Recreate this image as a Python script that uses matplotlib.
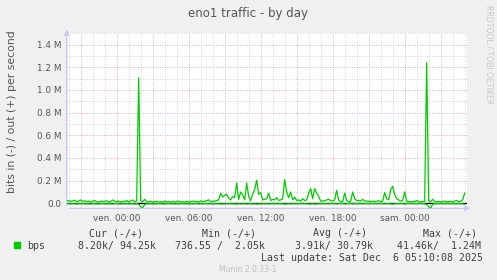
import matplotlib
matplotlib.use('Agg')
import matplotlib.pyplot as plt
import matplotlib.dates as mdates
import numpy as np
import pandas as pd

# out (+) traffic, kbit/s, one value per 10 minutes
out_k = [
    20, 25, 18, 22, 28, 15, 20, 30, 18, 22,
    15, 20, 12, 18, 25, 15, 10, 20, 15, 18,
    22, 12, 15, 30, 18, 15, 20, 12, 18, 15,
    25, 12, 20, 30, 15, 20, 1108, 20, 15, 35,
    15, 12, 20, 10, 15, 18, 12, 15, 10, 20,
    12, 15, 10, 18, 12, 15, 20, 12, 15, 10,
    18, 12, 15, 20, 15, 18, 12, 22, 15, 18,
    25, 30, 15, 20, 18, 25, 30, 90, 55, 70,
    80, 45, 30, 60, 50, 180, 35, 100, 75, 30,
    180, 60, 25, 80, 120, 205, 80, 95, 30, 35,
    40, 90, 25, 35, 30, 50, 25, 30, 40, 210,
    100, 50, 100, 30, 55, 25, 30, 20, 40, 25,
    30, 90, 130, 40, 130, 90, 60, 20, 20, 25,
    30, 35, 25, 20, 30, 115, 30, 15, 15, 90,
    25, 15, 15, 100, 40, 25, 25, 20, 35, 20,
    20, 18, 15, 20, 15, 18, 22, 15, 20, 95,
    40, 30, 120, 150, 80, 40, 30, 20, 25, 100,
    20, 15, 12, 18, 15, 25, 15, 12, 18, 15,
    1240, 20, 15, 35, 15, 12, 18, 10, 15, 20,
    12, 15, 18, 12, 20, 25, 15, 18, 30, 90,
]

# in (-) traffic, kbit/s, drawn below zero
in_k = [
    4, 3, 5, 2, 4, 6, 3, 4, 2, 5,
    3, 4, 6, 2, 3, 5, 4, 3, 2, 4,
    5, 3, 4, 6, 3, 2, 4, 5, 3, 4,
    2, 5, 3, 4, 6, 3, 8, 30, 38, 12,
    3, 4, 2, 5, 3, 4, 2, 3, 5, 4,
    3, 2, 4, 3, 5, 2, 4, 3, 2, 4,
    3, 5, 2, 4, 3, 2, 5, 3, 4, 2,
    3, 4, 2, 5, 3, 4, 3, 6, 4, 5,
    3, 4, 3, 5, 4, 7, 3, 5, 4, 3,
    6, 4, 3, 5, 4, 7, 4, 5, 3, 4,
    3, 5, 3, 4, 3, 4, 3, 4, 3, 7,
    5, 3, 5, 3, 4, 3, 3, 2, 4, 3,
    3, 5, 6, 3, 6, 5, 4, 2, 3, 3,
    3, 4, 3, 2, 3, 5, 3, 2, 2, 5,
    3, 2, 2, 5, 3, 3, 3, 2, 4, 2,
    2, 3, 2, 3, 2, 3, 3, 2, 3, 5,
    3, 3, 5, 6, 4, 3, 3, 2, 3, 5,
    2, 2, 1, 2, 2, 3, 2, 1, 2, 4,
    10, 30, 41.46, 8, 3, 2, 3, 1, 2, 3,
    2, 3, 3, 2, 3, 4, 2, 3, 4, 8.2,
]

times = pd.date_range('2025-12-04 19:50', periods=len(out_k), freq='10min')
t_start = pd.Timestamp('2025-12-04 19:50:08')
t_end = pd.Timestamp('2025-12-06 05:10:08')

legend_head = ['Cur (-/+)', 'Min (-/+)', 'Avg (-/+)', 'Max (-/+)']
legend_vals = ['8.20k/ 94.25k', '736.55 /  2.05k', '3.91k/ 30.79k', '41.46k/  1.24M']
jours = ['lun.', 'mar.', 'mer.', 'jeu.', 'ven.', 'sam.', 'dim.']

W, H = 497, 280
bg = '#F0F0F0'
txt = '#555555'
green = '#00CC00'
axcol = '#C8C8F4'

fig = plt.figure(figsize=(W / 100, H / 100), dpi=100, facecolor=bg)
ax = fig.add_axes([66.7 / W, 1 - 208.3 / H, 400 / W, 175.3 / H])
ax.set_facecolor('white')

out = np.array(out_k) / 1000.0
inn = -np.array(in_k) / 1000.0

ax.axhline(0, color='black', lw=1.0, zorder=3)
ax.plot(times, inn, color=green, lw=0.9, zorder=4)
ax.plot(times, out, color=green, lw=0.9, zorder=5)

ax.set_xlim(t_start, t_end)
ax.set_ylim(-0.044, 1.503)

# grid: gray every 0.1 M / 1 h, red every 0.2 M / 3 h
ax.set_yticks(np.arange(0, 1.41, 0.2))
ax.set_yticks(np.arange(0.1, 1.51, 0.2), minor=True)
ax.set_yticklabels(['0.0'] + ['%.1f M' % v for v in np.arange(0.2, 1.41, 0.2)])
ax.xaxis.set_major_locator(mdates.HourLocator(byhour=range(0, 24, 6)))
ax.xaxis.set_minor_locator(mdates.HourLocator())
ax.xaxis.set_major_formatter(plt.FuncFormatter(
    lambda v, p: jours[mdates.num2date(v).weekday()] + ' ' + mdates.num2date(v).strftime('%H:%M')))

ax.grid(which='minor', color='#D4D4D4', lw=0.7, ls=(0, (1, 1.5)), zorder=0)
for h in pd.date_range('2025-12-04 21:00', t_end, freq='3h'):
    ax.axvline(h, color='#E8A8A8', lw=0.7, ls=(0, (1, 1.5)), zorder=1)
for y in np.arange(0.2, 1.41, 0.2):
    ax.axhline(y, color='#E8A8A8', lw=0.7, ls=(0, (1, 1.5)), zorder=1)

ax.tick_params(axis='both', which='both', length=0, labelsize=6.4, colors=txt, pad=4)
ax.tick_params(axis='x', pad=4)
for s in ax.spines.values():
    s.set_visible(False)

# axes with arrows
ax.annotate('', xy=(0, 1.035), xytext=(0, 0), xycoords='axes fraction',
            arrowprops=dict(arrowstyle='-|>', color=axcol, lw=1, mutation_scale=7),
            annotation_clip=False)
ax.annotate('', xy=(1.016, 0), xytext=(0, 0), xycoords='axes fraction',
            arrowprops=dict(arrowstyle='-|>', color=axcol, lw=1, mutation_scale=7),
            annotation_clip=False)

fig.text(248 / W, 1 - 14 / H, 'eno1 traffic - by day', ha='center', va='center',
         fontsize=8.5, color=txt)
fig.text(12 / W, 1 - 112 / H, 'bits in (-) / out (+) per second', rotation=90,
         ha='center', va='center', fontsize=7.8, color=txt)
fig.text(489 / W, 1 - 5 / H, 'RRDTOOL / TOBI OETIKER', rotation=270,
         ha='center', va='top', fontsize=5.6, color='#C8C8C8')

mono = dict(family='DejaVu Sans Mono', fontsize=7.1, color='#404040', va='center')
for x, s in zip([89, 201.7, 312.7, 423.3], legend_head):
    fig.text(x / W, 1 - 233 / H, s, ha='left', **mono)
fig.patches.append(plt.Rectangle((14 / W, 1 - 248.3 / H), 6 / W, 6 / H,
                                 transform=fig.transFigure, color=green))
fig.text(26.7 / W, 1 - 246 / H, 'bps', ha='left', **mono)
for x, s in zip([78.3, 175, 295, 397.3], legend_vals):
    fig.text(x / W, 1 - 246 / H, s, ha='left', **mono)
fig.text(483.3 / W, 1 - 258 / H, 'Last update: Sat Dec  6 05:10:08 2025', ha='right', **mono)
fig.text(248 / W, 1 - 269.5 / H, 'Munin 2.0.33-1', ha='center', va='center',
         fontsize=5.5, color='#C0C0C0')

fig.savefig('out.png', dpi=100, facecolor=bg)
